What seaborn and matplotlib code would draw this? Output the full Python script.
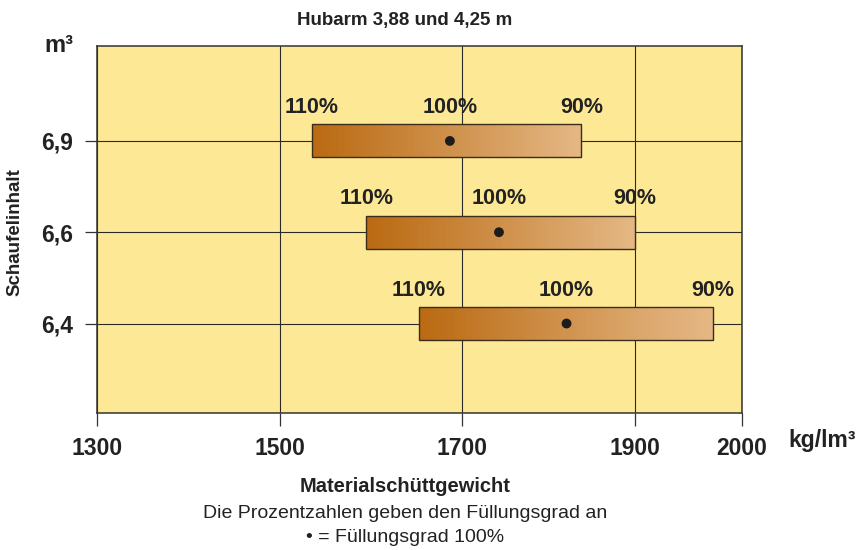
import numpy as np
import matplotlib
matplotlib.use("Agg")
import matplotlib.pyplot as plt
from matplotlib import font_manager
from matplotlib.colors import LinearSegmentedColormap
import seaborn as sns

# ---------------------------------------------------------------------------
# Data
# ---------------------------------------------------------------------------
VOLUMES = ["6,9", "6,6", "6,4"]          # Schaufelinhalt m3
LOW = [1535, 1595, 1653]                 # density at 110 % fill
FULL = [1687, 1743, 1821]                # density at 100 % fill
HIGH = [1838, 1900, 1973]                # density at 90 % fill
FILL_LABELS = ["110%", "100%", "90%"]
X_TICKS = [1300, 1500, 1700, 1900, 2000]

# axis in the original is not evenly spaced -> piecewise scale
TICK_FRAC = [0.0, 0.2833, 0.5654, 0.8344, 1.0]

BG = "#FDE995"
INK = "#222222"
EDGE = "#3b2c1c"
GRAD = LinearSegmentedColormap.from_list("fill", ["#BA6A12", "#E4B784"])

sns.set_theme(style="white")
names = {f.name for f in font_manager.fontManager.ttflist}
NARROW = "Liberation Sans Narrow" if "Liberation Sans Narrow" in names else "Liberation Sans"
plt.rcParams["font.family"] = ["Liberation Sans", "DejaVu Sans"]

fig = plt.figure(figsize=(8.62, 5.5), dpi=100)
ax = fig.add_axes([0.1131, 0.2491, 0.7473, 0.6673])
ax.set_facecolor(BG)

fwd = lambda v: np.interp(v, X_TICKS, TICK_FRAC)
inv = lambda u: np.interp(u, TICK_FRAC, X_TICKS)
ax.set_xscale("function", functions=(fwd, inv))
ax.set_xlim(X_TICKS[0], X_TICKS[-1])

pos = np.arange(len(VOLUMES))
BAR_H = 0.36

# gradient bars (drawn as thin slices) + outline
for p, lo, hi in zip(pos, LOW, HIGH):
    edges = np.linspace(lo, hi, 121)
    for j in range(len(edges) - 1):
        ax.barh(p, edges[j + 1] - edges[j], left=edges[j], height=BAR_H,
                color=GRAD(j / (len(edges) - 2)), linewidth=0,
                antialiased=False, zorder=3)
    ax.barh(p, hi - lo, left=lo, height=BAR_H, fill=False,
            edgecolor=EDGE, linewidth=1.0, zorder=4)

sns.scatterplot(x=FULL, y=pos, color="#1c1c1c", s=50, edgecolor="none",
                zorder=5, ax=ax, legend=False)

# percent labels above each bar
for p, lo, mid, hi in zip(pos, LOW, FULL, HIGH):
    for xv, lab in zip([lo, mid, hi], FILL_LABELS):
        ax.text(xv, p - BAR_H / 2 - 0.07, lab, ha="center", va="bottom",
                fontsize=15.5, fontweight="bold", color=INK, zorder=6)

ax.set_ylim(2.98, -1.04)
ax.set_yticks(pos)
ax.set_yticklabels(VOLUMES)
ax.set_xticks(X_TICKS)
ax.set_xticklabels([str(t) for t in X_TICKS])
ax.xaxis.set_minor_locator(matplotlib.ticker.NullLocator())

ax.grid(True, color="#2a2a2a", linewidth=0.8, zorder=1)
ax.set_axisbelow(True)
for s in ax.spines.values():
    s.set_color("#333333")
    s.set_linewidth(1.1)

ax.tick_params(axis="both", which="major", direction="out", length=9,
               width=0.9, color="#333333", pad=8.5,
               labelsize=16.5, labelcolor=INK)
for lab in ax.get_xticklabels() + ax.get_yticklabels():
    lab.set_fontweight("bold")
ax.tick_params(axis="x", bottom=True)
ax.tick_params(axis="y", left=True)
ax.set_xlabel("")
ax.set_ylabel("")

# surrounding texts
fig.text(405 / 862, 1 - 20 / 550, "Hubarm 3,88 und 4,25 m", ha="center",
         va="center", fontsize=13.5, fontweight="bold", family=NARROW, color=INK)
fig.text(44 / 862, 1 - 46 / 550, "m³", ha="left", va="center",
         fontsize=17, fontweight="bold", color=INK)
fig.text(788 / 862, 1 - 440 / 550, "kg/lm³", ha="left", va="center",
         fontsize=16.5, fontweight="bold", color=INK)
fig.text(15 / 862, 1 - 232 / 550, "Schaufelinhalt", ha="center", va="center",
         rotation=90, fontsize=13.5, fontweight="bold", family=NARROW, color=INK)
fig.text(405 / 862, 1 - 487 / 550, "Materialschüttgewicht", ha="center",
         va="center", fontsize=14.5, fontweight="bold", family=NARROW, color=INK)
fig.text(405 / 862, 1 - 513 / 550, "Die Prozentzahlen geben den Füllungsgrad an",
         ha="center", va="center", fontsize=14, family=NARROW, color=INK)
fig.text(405 / 862, 1 - 537 / 550, "• = Füllungsgrad 100%", ha="center",
         va="center", fontsize=14, family=NARROW, color=INK)

fig.savefig("out.png", dpi=100, facecolor="white")
